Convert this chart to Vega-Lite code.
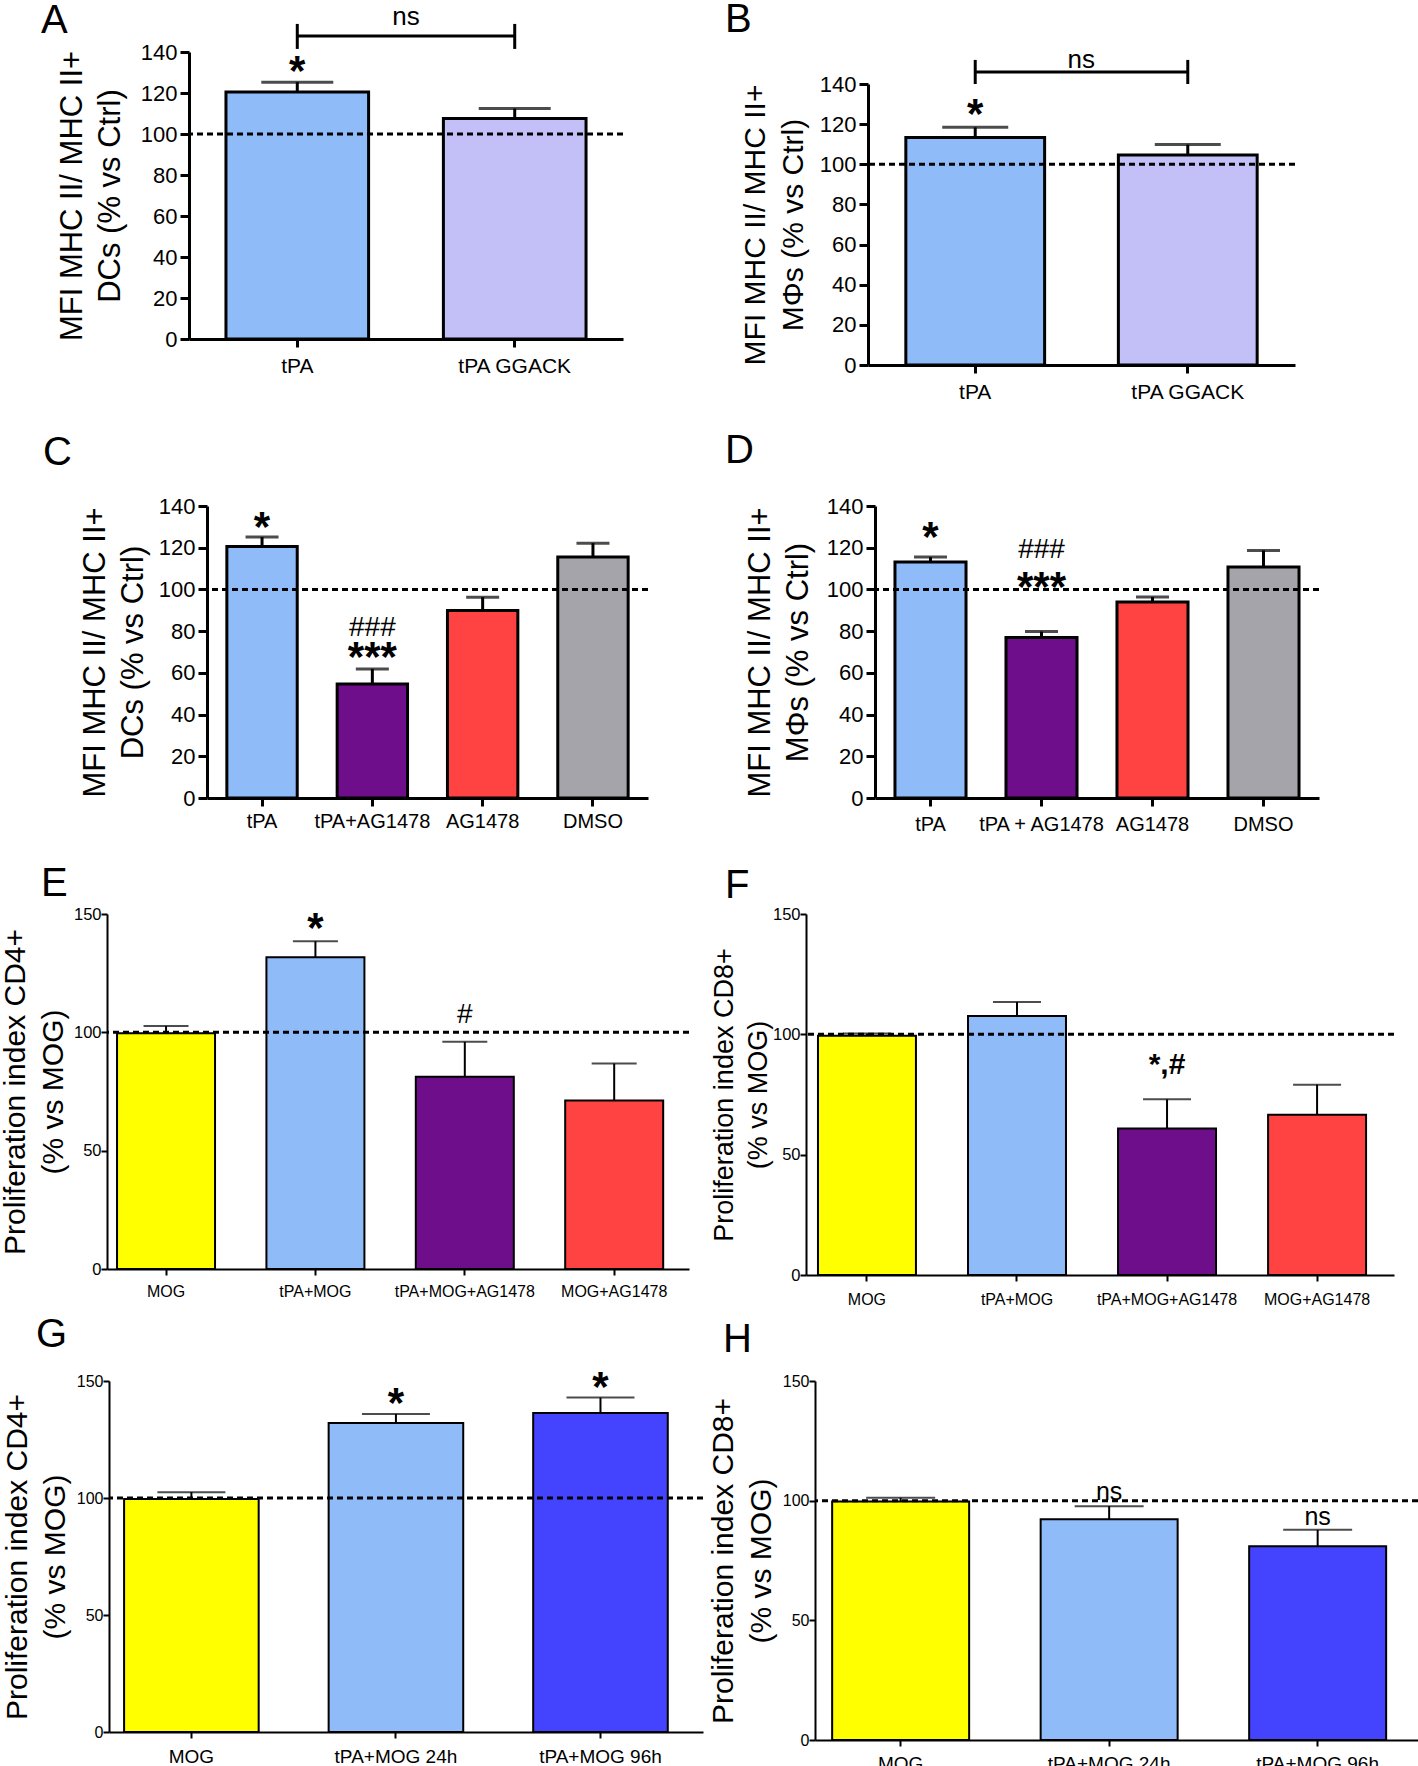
{
"$schema": "https://vega.github.io/schema/vega-lite/v6.json",
"padding": {"left": 0, "top": 0, "right": 0, "bottom": 0},
"background": "white",
"config": {
 "view": {"stroke": null},
 "axis": {"labelColor": "black", "titleColor": "black", "domainColor": "black", "tickColor": "black", "grid": false, "labelFont": "Liberation Sans", "titleFont": "Liberation Sans", "titleFontWeight": "normal"},
 "text": {"color": "black"},
 "title": {"font": "Liberation Sans", "fontSize": 40, "fontWeight": "normal", "anchor": "start", "frame": "group", "baseline": "alphabetic", "offset": 0, "color": "black"}
},
"resolve": {"scale": {"x": "independent", "y": "independent", "color": "independent"}, "axis": {"x": "independent", "y": "independent"}},
"bounds": "full",
"spacing": 0,
"vconcat": [
 {"bounds": "flush", "spacing": 0, "resolve": {"scale": {"x": "independent", "y": "independent", "color": "independent"}, "axis": {"x": "independent", "y": "independent"}},
  "hconcat": [
  {"width": 189, "height": 1, "data": {"values": []}, "mark": "point"},
  {"width": 434, "height": 287, "title": {"text": "A", "dx": -148, "dy": 41.4},
   "layer": [
    {"data": {"values": [{"g": "tPA", "v": 120.5, "e": 125.3}, {"g": "tPA GGACK", "v": 107.6, "e": 112.4}]},
     "encoding": {"x": {"field": "g", "type": "nominal", "title": null, "scale": {"domain": ["tPA", "tPA GGACK"], "paddingInner": 0.344, "paddingOuter": 0.17}, "axis": {"labelAngle": 0, "labelFontSize": 21, "labelPadding": 8, "tickSize": 8, "tickWidth": 3, "domainWidth": 3}}},
     "layer": [
      {"mark": {"type": "bar", "stroke": "black", "strokeWidth": 3}, "encoding": {"y": {"field": "v", "type": "quantitative", "title": ["MFI MHC II/ MHC II+", "DCs (% vs Ctrl)"], "scale": {"domain": [0, 140], "nice": false}, "axis": {"values": [0, 20, 40, 60, 80, 100, 120, 140], "labelFontSize": 22, "labelPadding": 3, "tickSize": 9, "tickWidth": 3, "domainWidth": 3, "titleFontSize": 31, "titleLineHeight": 38, "titlePadding": 14}}, "color": {"field": "g", "type": "nominal", "legend": null, "scale": {"domain": ["tPA", "tPA GGACK"], "range": ["#8fbbf9", "#c2c0f6"]}}}},
      {"mark": {"type": "rule", "strokeWidth": 3, "color": "black"}, "encoding": {"y": {"field": "v", "type": "quantitative", "title": ["MFI MHC II/ MHC II+", "DCs (% vs Ctrl)"]}, "y2": {"field": "e"}}},
      {"mark": {"type": "tick", "size": 72, "thickness": 3, "color": "black"}, "encoding": {"y": {"field": "e", "type": "quantitative", "title": ["MFI MHC II/ MHC II+", "DCs (% vs Ctrl)"]}}}
     ]},
    {"data": {"values": [{}]}, "mark": {"type": "rule", "strokeDash": [6, 4], "strokeWidth": 3, "color": "black"}, "encoding": {"y": {"datum": 100, "type": "quantitative", "title": ["MFI MHC II/ MHC II+", "DCs (% vs Ctrl)"]}}},
    {"data": {"values": [{"g": "tPA", "y": 134, "t": "*"}]}, "mark": {"type": "text", "font": "Liberation Sans", "fontSize": 42, "fontWeight": "bold", "baseline": "middle", "dy": 8}, "encoding": {"x": {"field": "g", "type": "nominal", "title": null, "scale": {"domain": ["tPA", "tPA GGACK"]}}, "y": {"field": "y", "type": "quantitative", "title": ["MFI MHC II/ MHC II+", "DCs (% vs Ctrl)"]}, "text": {"field": "t"}}},
    {"data": {"values": [{"g": "tPA", "g2": "tPA GGACK", "y": 147.8}]}, "mark": {"type": "rule", "strokeWidth": 3, "color": "black"}, "encoding": {"x": {"field": "g", "type": "nominal", "title": null, "scale": {"domain": ["tPA", "tPA GGACK"]}}, "x2": {"field": "g2"}, "y": {"field": "y", "type": "quantitative", "title": ["MFI MHC II/ MHC II+", "DCs (% vs Ctrl)"]}}},
    {"data": {"values": [{"g": "tPA", "y": 141.5, "y2": 153.7}, {"g": "tPA GGACK", "y": 141.5, "y2": 153.7}]}, "mark": {"type": "rule", "strokeWidth": 3, "color": "black"}, "encoding": {"x": {"field": "g", "type": "nominal", "title": null, "scale": {"domain": ["tPA", "tPA GGACK"]}}, "y": {"field": "y", "type": "quantitative", "title": ["MFI MHC II/ MHC II+", "DCs (% vs Ctrl)"]}, "y2": {"field": "y2"}}},
    {"data": {"values": [{"g": "tPA", "y": 157.3, "t": "ns"}]}, "mark": {"type": "text", "font": "Liberation Sans", "fontSize": 26, "baseline": "middle", "dx": 108.7}, "encoding": {"x": {"field": "g", "type": "nominal", "title": null, "scale": {"domain": ["tPA", "tPA GGACK"]}}, "y": {"field": "y", "type": "quantitative", "title": ["MFI MHC II/ MHC II+", "DCs (% vs Ctrl)"]}, "text": {"field": "t"}}}
   ]},
  {"width": 245, "height": 1, "data": {"values": []}, "mark": "point"},
  {"bounds": "flush", "spacing": 0, "resolve": {"scale": {"x": "independent", "y": "independent", "color": "independent"}, "axis": {"x": "independent", "y": "independent"}},
   "vconcat": [
   {"width": 1, "height": 32, "data": {"values": []}, "mark": "point"},
   {"width": 427, "height": 281, "title": {"text": "B", "dx": -143, "dy": -2.6},
    "layer": [
     {"data": {"values": [{"g": "tPA", "v": 113.4, "e": 118.4}, {"g": "tPA GGACK", "v": 104.6, "e": 109.8}]},
      "encoding": {"x": {"field": "g", "type": "nominal", "title": null, "scale": {"domain": ["tPA", "tPA GGACK"], "paddingInner": 0.347, "paddingOuter": 0.178}, "axis": {"labelAngle": 0, "labelFontSize": 21, "labelPadding": 8, "tickSize": 8, "tickWidth": 3, "domainWidth": 3}}},
      "layer": [
       {"mark": {"type": "bar", "stroke": "black", "strokeWidth": 3}, "encoding": {"y": {"field": "v", "type": "quantitative", "title": ["MFI MHC II/ MHC II+", "MΦs (% vs Ctrl)"], "scale": {"domain": [0, 140], "nice": false}, "axis": {"values": [0, 20, 40, 60, 80, 100, 120, 140], "labelFontSize": 22, "labelPadding": 3, "tickSize": 9, "tickWidth": 3, "domainWidth": 3, "titleFontSize": 30, "titleLineHeight": 38, "titlePadding": 11}}, "color": {"field": "g", "type": "nominal", "legend": null, "scale": {"domain": ["tPA", "tPA GGACK"], "range": ["#8fbbf9", "#c2c0f6"]}}}},
       {"mark": {"type": "rule", "strokeWidth": 3, "color": "black"}, "encoding": {"y": {"field": "v", "type": "quantitative", "title": ["MFI MHC II/ MHC II+", "MΦs (% vs Ctrl)"]}, "y2": {"field": "e"}}},
       {"mark": {"type": "tick", "size": 66, "thickness": 3, "color": "black"}, "encoding": {"y": {"field": "e", "type": "quantitative", "title": ["MFI MHC II/ MHC II+", "MΦs (% vs Ctrl)"]}}}
      ]},
     {"data": {"values": [{}]}, "mark": {"type": "rule", "strokeDash": [6, 4], "strokeWidth": 3, "color": "black"}, "encoding": {"y": {"datum": 100, "type": "quantitative", "title": ["MFI MHC II/ MHC II+", "MΦs (% vs Ctrl)"]}}},
     {"data": {"values": [{"g": "tPA", "y": 129, "t": "*"}]}, "mark": {"type": "text", "font": "Liberation Sans", "fontSize": 42, "fontWeight": "bold", "baseline": "middle", "dy": 9}, "encoding": {"x": {"field": "g", "type": "nominal", "title": null, "scale": {"domain": ["tPA", "tPA GGACK"]}}, "y": {"field": "y", "type": "quantitative", "title": ["MFI MHC II/ MHC II+", "MΦs (% vs Ctrl)"]}, "text": {"field": "t"}}},
     {"data": {"values": [{"g": "tPA", "g2": "tPA GGACK", "y": 146}]}, "mark": {"type": "rule", "strokeWidth": 3, "color": "black"}, "encoding": {"x": {"field": "g", "type": "nominal", "title": null, "scale": {"domain": ["tPA", "tPA GGACK"]}}, "x2": {"field": "g2"}, "y": {"field": "y", "type": "quantitative", "title": ["MFI MHC II/ MHC II+", "MΦs (% vs Ctrl)"]}}},
     {"data": {"values": [{"g": "tPA", "y": 140, "y2": 152}, {"g": "tPA GGACK", "y": 140, "y2": 152}]}, "mark": {"type": "rule", "strokeWidth": 3, "color": "black"}, "encoding": {"x": {"field": "g", "type": "nominal", "title": null, "scale": {"domain": ["tPA", "tPA GGACK"]}}, "y": {"field": "y", "type": "quantitative", "title": ["MFI MHC II/ MHC II+", "MΦs (% vs Ctrl)"]}, "y2": {"field": "y2"}}},
     {"data": {"values": [{"g": "tPA", "y": 152, "t": "ns"}]}, "mark": {"type": "text", "font": "Liberation Sans", "fontSize": 26, "baseline": "middle", "dx": 106}, "encoding": {"x": {"field": "g", "type": "nominal", "title": null, "scale": {"domain": ["tPA", "tPA GGACK"]}}, "y": {"field": "y", "type": "quantitative", "title": ["MFI MHC II/ MHC II+", "MΦs (% vs Ctrl)"]}, "text": {"field": "t"}}}
    ]}
  ]}
 ]},
 {"width": 1, "height": 29, "data": {"values": []}, "mark": "point"},
 {"bounds": "flush", "spacing": 0, "resolve": {"scale": {"x": "independent", "y": "independent", "color": "independent"}, "axis": {"x": "independent", "y": "independent"}},
  "hconcat": [
  {"width": 207, "height": 1, "data": {"values": []}, "mark": "point"},
  {"width": 441, "height": 292, "title": {"text": "C", "dx": -164, "dy": -18},
   "layer": [
    {"data": {"values": [{"g": "tPA", "v": 120.6, "e": 125.1}, {"g": "tPA+AG1478", "v": 54.7, "e": 61.9}, {"g": "AG1478", "v": 89.9, "e": 96.3}, {"g": "DMSO", "v": 115.5, "e": 122.2}]},
     "encoding": {"x": {"field": "g", "type": "nominal", "title": null, "scale": {"domain": ["tPA", "tPA+AG1478", "AG1478", "DMSO"], "paddingInner": 0.362, "paddingOuter": 0.18}, "axis": {"labelAngle": 0, "labelFontSize": 20, "labelPadding": 5, "tickSize": 8, "tickWidth": 3, "domainWidth": 3}}},
     "layer": [
      {"mark": {"type": "bar", "stroke": "black", "strokeWidth": 3}, "encoding": {"y": {"field": "v", "type": "quantitative", "title": ["MFI MHC II/ MHC II+", "DCs (% vs Ctrl)"], "scale": {"domain": [0, 140], "nice": false}, "axis": {"values": [0, 20, 40, 60, 80, 100, 120, 140], "labelFontSize": 22, "labelPadding": 3, "tickSize": 9, "tickWidth": 3, "domainWidth": 3, "titleFontSize": 31, "titleLineHeight": 38, "titlePadding": 9}}, "color": {"field": "g", "type": "nominal", "legend": null, "scale": {"domain": ["tPA", "tPA+AG1478", "AG1478", "DMSO"], "range": ["#8fbbf9", "#6e0e8a", "#ff4242", "#a5a4aa"]}}}},
      {"mark": {"type": "rule", "strokeWidth": 3, "color": "black"}, "encoding": {"y": {"field": "v", "type": "quantitative", "title": ["MFI MHC II/ MHC II+", "DCs (% vs Ctrl)"]}, "y2": {"field": "e"}}},
      {"mark": {"type": "tick", "size": 33, "thickness": 3, "color": "black"}, "encoding": {"y": {"field": "e", "type": "quantitative", "title": ["MFI MHC II/ MHC II+", "DCs (% vs Ctrl)"]}}}
     ]},
    {"data": {"values": [{}]}, "mark": {"type": "rule", "strokeDash": [6, 4], "strokeWidth": 3, "color": "black"}, "encoding": {"y": {"datum": 100, "type": "quantitative", "title": ["MFI MHC II/ MHC II+", "DCs (% vs Ctrl)"]}}},
    {"data": {"values": [{"g": "tPA", "y": 133.8, "t": "*"}, {"g": "tPA+AG1478", "y": 71.4, "t": "***"}]}, "mark": {"type": "text", "font": "Liberation Sans", "fontSize": 42, "fontWeight": "bold", "baseline": "middle", "dy": 9}, "encoding": {"x": {"field": "g", "type": "nominal", "title": null, "scale": {"domain": ["tPA", "tPA+AG1478", "AG1478", "DMSO"]}}, "y": {"field": "y", "type": "quantitative", "title": ["MFI MHC II/ MHC II+", "DCs (% vs Ctrl)"]}, "text": {"field": "t"}}},
    {"data": {"values": [{"g": "tPA+AG1478", "y": 81.5, "t": "###"}]}, "mark": {"type": "text", "font": "Liberation Sans", "fontSize": 28, "baseline": "middle"}, "encoding": {"x": {"field": "g", "type": "nominal", "title": null, "scale": {"domain": ["tPA", "tPA+AG1478", "AG1478", "DMSO"]}}, "y": {"field": "y", "type": "quantitative", "title": ["MFI MHC II/ MHC II+", "DCs (% vs Ctrl)"]}, "text": {"field": "t"}}}
   ]},
  {"width": 227, "height": 1, "data": {"values": []}, "mark": "point"},
  {"width": 444, "height": 292, "title": {"text": "D", "dx": -150, "dy": -20},
   "layer": [
    {"data": {"values": [{"g": "tPA", "v": 113.2, "e": 115.5}, {"g": "tPA + AG1478", "v": 76.9, "e": 79.8}, {"g": "AG1478", "v": 94, "e": 96.4}, {"g": "DMSO", "v": 110.8, "e": 118.7}]},
     "encoding": {"x": {"field": "g", "type": "nominal", "title": null, "scale": {"domain": ["tPA", "tPA + AG1478", "AG1478", "DMSO"], "paddingInner": 0.36, "paddingOuter": 0.18}, "axis": {"labelAngle": 0, "labelFontSize": 20, "labelPadding": 8, "tickSize": 8, "tickWidth": 3, "domainWidth": 3}}},
     "layer": [
      {"mark": {"type": "bar", "stroke": "black", "strokeWidth": 3}, "encoding": {"y": {"field": "v", "type": "quantitative", "title": ["MFI MHC II/ MHC II+", "MΦs (% vs Ctrl)"], "scale": {"domain": [0, 140], "nice": false}, "axis": {"values": [0, 20, 40, 60, 80, 100, 120, 140], "labelFontSize": 22, "labelPadding": 3, "tickSize": 9, "tickWidth": 3, "domainWidth": 3, "titleFontSize": 31, "titleLineHeight": 38, "titlePadding": 12}}, "color": {"field": "g", "type": "nominal", "legend": null, "scale": {"domain": ["tPA", "tPA + AG1478", "AG1478", "DMSO"], "range": ["#8fbbf9", "#6e0e8a", "#ff4242", "#a5a4aa"]}}}},
      {"mark": {"type": "rule", "strokeWidth": 3, "color": "black"}, "encoding": {"y": {"field": "v", "type": "quantitative", "title": ["MFI MHC II/ MHC II+", "MΦs (% vs Ctrl)"]}, "y2": {"field": "e"}}},
      {"mark": {"type": "tick", "size": 33, "thickness": 3, "color": "black"}, "encoding": {"y": {"field": "e", "type": "quantitative", "title": ["MFI MHC II/ MHC II+", "MΦs (% vs Ctrl)"]}}}
     ]},
    {"data": {"values": [{}]}, "mark": {"type": "rule", "strokeDash": [6, 4], "strokeWidth": 3, "color": "black"}, "encoding": {"y": {"datum": 100, "type": "quantitative", "title": ["MFI MHC II/ MHC II+", "MΦs (% vs Ctrl)"]}}},
    {"data": {"values": [{"g": "tPA", "y": 129, "t": "*"}, {"g": "tPA + AG1478", "y": 105, "t": "***"}]}, "mark": {"type": "text", "font": "Liberation Sans", "fontSize": 42, "fontWeight": "bold", "baseline": "middle", "dy": 9}, "encoding": {"x": {"field": "g", "type": "nominal", "title": null, "scale": {"domain": ["tPA", "tPA + AG1478", "AG1478", "DMSO"]}}, "y": {"field": "y", "type": "quantitative", "title": ["MFI MHC II/ MHC II+", "MΦs (% vs Ctrl)"]}, "text": {"field": "t"}}},
    {"data": {"values": [{"g": "tPA + AG1478", "y": 119, "t": "###"}]}, "mark": {"type": "text", "font": "Liberation Sans", "fontSize": 28, "baseline": "middle"}, "encoding": {"x": {"field": "g", "type": "nominal", "title": null, "scale": {"domain": ["tPA", "tPA + AG1478", "AG1478", "DMSO"]}}, "y": {"field": "y", "type": "quantitative", "title": ["MFI MHC II/ MHC II+", "MΦs (% vs Ctrl)"]}, "text": {"field": "t"}}}
   ]}
 ]},
 {"width": 1, "height": 30, "data": {"values": []}, "mark": "point"},
 {"bounds": "flush", "spacing": 0, "resolve": {"scale": {"x": "independent", "y": "independent", "color": "independent"}, "axis": {"x": "independent", "y": "independent"}},
  "hconcat": [
  {"width": 107, "height": 1, "data": {"values": []}, "mark": "point"},
  {"width": 582, "height": 355, "title": {"text": "E", "dx": -66, "dy": 2},
   "layer": [
    {"data": {"values": [{"g": "MOG", "v": 99.6, "e": 102.7}, {"g": "tPA+MOG", "v": 131.7, "e": 138.5}, {"g": "tPA+MOG+AG1478", "v": 81.2, "e": 96}, {"g": "MOG+AG1478", "v": 71.2, "e": 86.8}]},
     "encoding": {"x": {"field": "g", "type": "nominal", "title": null, "scale": {"domain": ["MOG", "tPA+MOG", "tPA+MOG+AG1478", "MOG+AG1478"], "paddingInner": 0.344, "paddingOuter": 0.12, "align": 0.28}, "axis": {"labelAngle": 0, "labelFontSize": 16, "labelPadding": 8, "tickSize": 6, "tickWidth": 2, "domainWidth": 2}}},
     "layer": [
      {"mark": {"type": "bar", "stroke": "black", "strokeWidth": 2}, "encoding": {"y": {"field": "v", "type": "quantitative", "title": ["Proliferation index CD4+", "(% vs MOG)"], "scale": {"domain": [0, 150], "nice": false}, "axis": {"values": [0, 50, 100, 150], "labelFontSize": 16.5, "labelPadding": 0, "tickSize": 6, "tickWidth": 2, "domainWidth": 2, "titleFontSize": 30, "titleLineHeight": 38, "titlePadding": 5}}, "color": {"field": "g", "type": "nominal", "legend": null, "scale": {"domain": ["MOG", "tPA+MOG", "tPA+MOG+AG1478", "MOG+AG1478"], "range": ["#ffff00", "#8fbbf9", "#6e0e8a", "#ff4242"]}}}},
      {"mark": {"type": "rule", "strokeWidth": 2, "color": "black"}, "encoding": {"y": {"field": "v", "type": "quantitative", "title": ["Proliferation index CD4+", "(% vs MOG)"]}, "y2": {"field": "e"}}},
      {"mark": {"type": "tick", "size": 45, "thickness": 2, "color": "black"}, "encoding": {"y": {"field": "e", "type": "quantitative", "title": ["Proliferation index CD4+", "(% vs MOG)"]}}}
     ]},
    {"data": {"values": [{}]}, "mark": {"type": "rule", "strokeDash": [6, 4], "strokeWidth": 3, "color": "black"}, "encoding": {"y": {"datum": 100, "type": "quantitative", "title": ["Proliferation index CD4+", "(% vs MOG)"]}}},
    {"data": {"values": [{"g": "tPA+MOG", "y": 147.5, "t": "*"}]}, "mark": {"type": "text", "font": "Liberation Sans", "fontSize": 42, "fontWeight": "bold", "baseline": "middle", "dy": 9}, "encoding": {"x": {"field": "g", "type": "nominal", "title": null, "scale": {"domain": ["MOG", "tPA+MOG", "tPA+MOG+AG1478", "MOG+AG1478"]}}, "y": {"field": "y", "type": "quantitative", "title": ["Proliferation index CD4+", "(% vs MOG)"]}, "text": {"field": "t"}}},
    {"data": {"values": [{"g": "tPA+MOG+AG1478", "y": 107.3, "t": "#"}]}, "mark": {"type": "text", "font": "Liberation Sans", "fontSize": 28, "baseline": "middle"}, "encoding": {"x": {"field": "g", "type": "nominal", "title": null, "scale": {"domain": ["MOG", "tPA+MOG", "tPA+MOG+AG1478", "MOG+AG1478"]}}, "y": {"field": "y", "type": "quantitative", "title": ["Proliferation index CD4+", "(% vs MOG)"]}, "text": {"field": "t"}}}
   ]},
  {"width": 117, "height": 1, "data": {"values": []}, "mark": "point"},
  {"width": 588, "height": 361, "title": {"text": "F", "dx": -81, "dy": 4},
   "layer": [
    {"data": {"values": [{"g": "MOG", "v": 99.4, "e": 100.3}, {"g": "tPA+MOG", "v": 107.6, "e": 113.4}, {"g": "tPA+MOG+AG1478", "v": 60.9, "e": 73}, {"g": "MOG+AG1478", "v": 66.6, "e": 79.1}]},
     "encoding": {"x": {"field": "g", "type": "nominal", "title": null, "scale": {"domain": ["MOG", "tPA+MOG", "tPA+MOG+AG1478", "MOG+AG1478"], "paddingInner": 0.347, "paddingOuter": 0.133, "align": 0.3}, "axis": {"labelAngle": 0, "labelFontSize": 16, "labelPadding": 10, "tickSize": 6, "tickWidth": 2, "domainWidth": 2}}},
     "layer": [
      {"mark": {"type": "bar", "stroke": "black", "strokeWidth": 2}, "encoding": {"y": {"field": "v", "type": "quantitative", "title": ["Proliferation index CD8+", "(% vs MOG)"], "scale": {"domain": [0, 150], "nice": false}, "axis": {"values": [0, 50, 100, 150], "labelFontSize": 16.5, "labelPadding": 0, "tickSize": 6, "tickWidth": 2, "domainWidth": 2, "titleFontSize": 27, "titleLineHeight": 34, "titlePadding": 0}}, "color": {"field": "g", "type": "nominal", "legend": null, "scale": {"domain": ["MOG", "tPA+MOG", "tPA+MOG+AG1478", "MOG+AG1478"], "range": ["#ffff00", "#8fbbf9", "#6e0e8a", "#ff4242"]}}}},
      {"mark": {"type": "rule", "strokeWidth": 2, "color": "black"}, "encoding": {"y": {"field": "v", "type": "quantitative", "title": ["Proliferation index CD8+", "(% vs MOG)"]}, "y2": {"field": "e"}}},
      {"mark": {"type": "tick", "size": 48, "thickness": 2, "color": "black"}, "encoding": {"y": {"field": "e", "type": "quantitative", "title": ["Proliferation index CD8+", "(% vs MOG)"]}}}
     ]},
    {"data": {"values": [{}]}, "mark": {"type": "rule", "strokeDash": [6, 4], "strokeWidth": 3, "color": "black"}, "encoding": {"y": {"datum": 100, "type": "quantitative", "title": ["Proliferation index CD8+", "(% vs MOG)"]}}},
    {"data": {"values": [{"g": "tPA+MOG+AG1478", "y": 89, "t": "*,#"}]}, "mark": {"type": "text", "font": "Liberation Sans", "fontSize": 30, "fontWeight": "bold", "baseline": "middle", "dy": 4}, "encoding": {"x": {"field": "g", "type": "nominal", "title": null, "scale": {"domain": ["MOG", "tPA+MOG", "tPA+MOG+AG1478", "MOG+AG1478"]}}, "y": {"field": "y", "type": "quantitative", "title": ["Proliferation index CD8+", "(% vs MOG)"]}, "text": {"field": "t"}}}
   ]}
 ]},
 {"width": 1, "height": 7, "data": {"values": []}, "mark": "point"},
 {"bounds": "flush", "spacing": 0, "resolve": {"scale": {"x": "independent", "y": "independent", "color": "independent"}, "axis": {"x": "independent", "y": "independent"}},
  "hconcat": [
  {"width": 109, "height": 1, "data": {"values": []}, "mark": "point"},
  {"width": 594, "height": 351, "title": {"text": "G", "dx": -73, "dy": -8},
   "layer": [
    {"data": {"values": [{"g": "MOG", "v": 99.6, "e": 102.5}, {"g": "tPA+MOG 24h", "v": 132.1, "e": 135.9}, {"g": "tPA+MOG 96h", "v": 136.3, "e": 142.9}]},
     "encoding": {"x": {"field": "g", "type": "nominal", "title": null, "scale": {"domain": ["MOG", "tPA+MOG 24h", "tPA+MOG 96h"], "paddingInner": 0.342, "paddingOuter": 0.123, "align": 0.3}, "axis": {"labelAngle": 0, "labelFontSize": 19, "labelPadding": 9, "tickSize": 6, "tickWidth": 2, "domainWidth": 2}}},
     "layer": [
      {"mark": {"type": "bar", "stroke": "black", "strokeWidth": 2}, "encoding": {"y": {"field": "v", "type": "quantitative", "title": ["Proliferation index CD4+", "(% vs MOG)"], "scale": {"domain": [0, 150], "nice": false}, "axis": {"values": [0, 50, 100, 150], "labelFontSize": 16, "labelPadding": 0, "tickSize": 6, "tickWidth": 2, "domainWidth": 2, "titleFontSize": 30, "titleLineHeight": 38, "titlePadding": 6}}, "color": {"field": "g", "type": "nominal", "legend": null, "scale": {"domain": ["MOG", "tPA+MOG 24h", "tPA+MOG 96h"], "range": ["#ffff00", "#8fbbf9", "#4444ff"]}}}},
      {"mark": {"type": "rule", "strokeWidth": 2, "color": "black"}, "encoding": {"y": {"field": "v", "type": "quantitative", "title": ["Proliferation index CD4+", "(% vs MOG)"]}, "y2": {"field": "e"}}},
      {"mark": {"type": "tick", "size": 68, "thickness": 2, "color": "black"}, "encoding": {"y": {"field": "e", "type": "quantitative", "title": ["Proliferation index CD4+", "(% vs MOG)"]}}}
     ]},
    {"data": {"values": [{}]}, "mark": {"type": "rule", "strokeDash": [6, 4], "strokeWidth": 3, "color": "black"}, "encoding": {"y": {"datum": 100, "type": "quantitative", "title": ["Proliferation index CD4+", "(% vs MOG)"]}}},
    {"data": {"values": [{"g": "tPA+MOG 24h", "y": 144, "t": "*"}, {"g": "tPA+MOG 96h", "y": 151, "t": "*"}]}, "mark": {"type": "text", "font": "Liberation Sans", "fontSize": 42, "fontWeight": "bold", "baseline": "middle", "dy": 9}, "encoding": {"x": {"field": "g", "type": "nominal", "title": null, "scale": {"domain": ["MOG", "tPA+MOG 24h", "tPA+MOG 96h"]}}, "y": {"field": "y", "type": "quantitative", "title": ["Proliferation index CD4+", "(% vs MOG)"]}, "text": {"field": "t"}}}
   ]},
  {"width": 112, "height": 1, "data": {"values": []}, "mark": "point"},
  {"width": 603, "height": 359, "title": {"text": "H", "dx": -92, "dy": -9},
   "layer": [
    {"data": {"values": [{"g": "MOG", "v": 99.7, "e": 101.2}, {"g": "tPA+MOG 24h", "v": 92.2, "e": 97.7}, {"g": "tPA+MOG 96h", "v": 81, "e": 87.8}]},
     "encoding": {"x": {"field": "g", "type": "nominal", "title": null, "scale": {"domain": ["MOG", "tPA+MOG 24h", "tPA+MOG 96h"], "paddingInner": 0.343, "paddingOuter": 0.1175, "align": 0.35}, "axis": {"labelAngle": 0, "labelFontSize": 19, "labelPadding": 8, "tickSize": 6, "tickWidth": 2, "domainWidth": 2}}},
     "layer": [
      {"mark": {"type": "bar", "stroke": "black", "strokeWidth": 2}, "encoding": {"y": {"field": "v", "type": "quantitative", "title": ["Proliferation index CD8+", "(% vs MOG)"], "scale": {"domain": [0, 150], "nice": false}, "axis": {"values": [0, 50, 100, 150], "labelFontSize": 16, "labelPadding": 0, "tickSize": 6, "tickWidth": 2, "domainWidth": 2, "titleFontSize": 30, "titleLineHeight": 38, "titlePadding": 6}}, "color": {"field": "g", "type": "nominal", "legend": null, "scale": {"domain": ["MOG", "tPA+MOG 24h", "tPA+MOG 96h"], "range": ["#ffff00", "#8fbbf9", "#4444ff"]}}}},
      {"mark": {"type": "rule", "strokeWidth": 2, "color": "black"}, "encoding": {"y": {"field": "v", "type": "quantitative", "title": ["Proliferation index CD8+", "(% vs MOG)"]}, "y2": {"field": "e"}}},
      {"mark": {"type": "tick", "size": 69, "thickness": 2, "color": "black"}, "encoding": {"y": {"field": "e", "type": "quantitative", "title": ["Proliferation index CD8+", "(% vs MOG)"]}}}
     ]},
    {"data": {"values": [{}]}, "mark": {"type": "rule", "strokeDash": [6, 4], "strokeWidth": 3, "color": "black"}, "encoding": {"y": {"datum": 100, "type": "quantitative", "title": ["Proliferation index CD8+", "(% vs MOG)"]}}},
    {"data": {"values": [{"g": "tPA+MOG 24h", "y": 103.6, "t": "ns"}, {"g": "tPA+MOG 96h", "y": 93.2, "t": "ns"}]}, "mark": {"type": "text", "font": "Liberation Sans", "fontSize": 25, "baseline": "middle"}, "encoding": {"x": {"field": "g", "type": "nominal", "title": null, "scale": {"domain": ["MOG", "tPA+MOG 24h", "tPA+MOG 96h"]}}, "y": {"field": "y", "type": "quantitative", "title": ["Proliferation index CD8+", "(% vs MOG)"]}, "text": {"field": "t"}}}
   ]}
 ]}
]
}
